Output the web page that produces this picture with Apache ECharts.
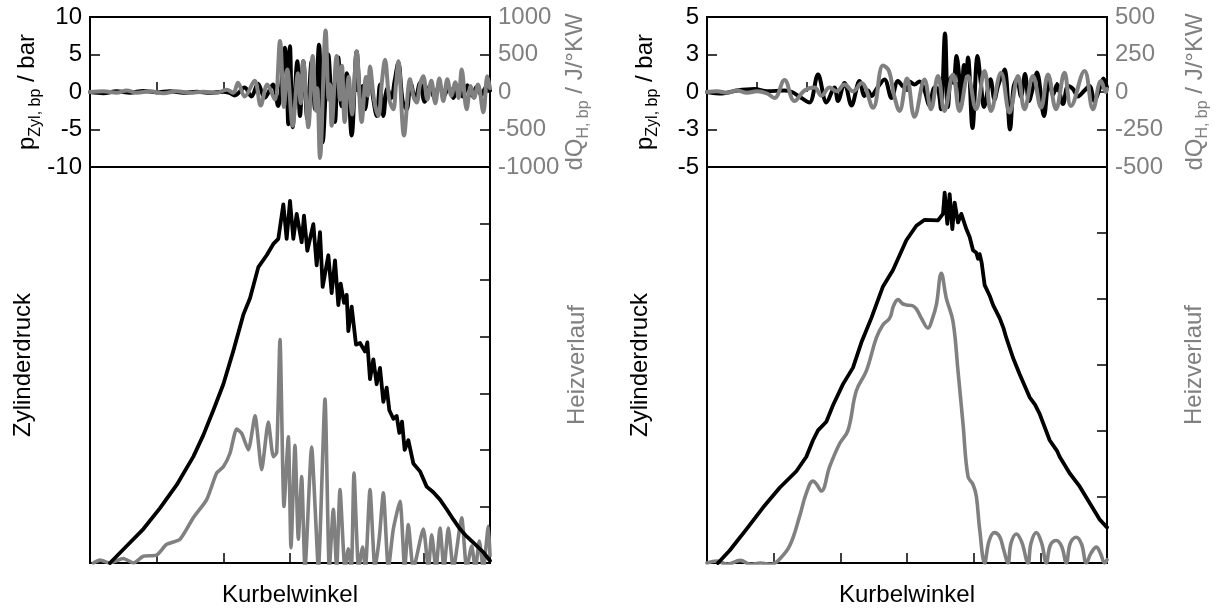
<!DOCTYPE html>
<html>
<head>
<meta charset="utf-8">
<script src="https://cdn.jsdelivr.net/npm/echarts@6/dist/echarts.min.js"></script>
<style>
html, body { margin: 0; padding: 0; background: #fff; }
#chart { width: 1216px; height: 612px; }
</style>
</head>
<body>
<div id="chart"></div>
<script>
// band-pass filtered signals, left case (x = crank angle units, 0..60)
var leftTopP = [[0,0],[2,-0.15],[4,0.1],[6,-0.1],[8,0.15],[10,-0.05],[12,0.1],[14,-0.1],[16,0.05],[18,-0.1],[20,0.05],[21,-0.15],[21.7,-0.45],[23.2,0.6],[24.2,-0.6],[25.2,1.1],[26.2,-0.75],[27.45,1.0],[28.2,-1.85],[29.25,5.9],[29.75,-4.3],[30.0,6.1],[30.4,-4.7],[31.1,4.1],[31.5,-3.2],[32.0,4.1],[32.6,-3.6],[33.25,4.1],[33.75,-2.3],[34.35,6.3],[34.9,-6.7],[35.75,5.0],[36.3,-1.5],[36.5,1.0],[36.75,-4.0],[37.25,4.6],[37.75,-1.9],[38.5,2.5],[39.25,-5.8],[40.0,5.4],[40.6,-1.0],[40.9,0.8],[41.25,-2.3],[42.0,2.1],[42.5,-1.0],[43.0,-3.2],[43.5,1.0],[44.0,-3.2],[44.6,0.5],[45.2,-0.8],[45.7,1.5],[46.25,3.9],[46.9,-1.2],[47.5,-2.3],[48.1,1.2],[48.8,-1.0],[49.5,1.2],[50.2,-1.3],[51.0,0.8],[51.7,-0.9],[52.4,1.0],[53.1,-0.5],[53.8,0.7],[54.5,-0.8],[55.2,0.6],[55.9,-0.6],[56.6,0.9],[57.3,-0.5],[58.0,0.7],[58.7,-0.4],[59.4,0.6],[60,0.2]];
var leftTopQ = [[0,0],[2,10],[4,-10],[5.5,20],[7,-10],[9,10],[11,-15],[13,10],[15,-10],[17,5],[19,-10],[20.5,30],[21.5,-10],[22.2,125],[23.2,-60],[24.7,150],[25.6,-180],[26.6,100],[27.7,-100],[28.5,680],[29.1,-200],[29.6,300],[30.4,-450],[31.2,250],[31.6,-150],[32.0,410],[32.75,-470],[33.4,480],[33.9,-250],[34.1,50],[34.5,-880],[35.35,820],[35.8,-100],[36.0,100],[36.25,-450],[37.0,480],[37.5,-100],[37.8,350],[38.2,-400],[38.8,200],[39.3,-300],[40.0,540],[40.75,-400],[41.4,200],[41.7,-50],[42.0,340],[42.6,-100],[43.25,-320],[43.8,150],[44.25,430],[44.9,-100],[45.5,-230],[45.9,100],[46.25,410],[47.1,-580],[48.0,170],[48.5,-50],[49.0,-140],[49.5,100],[50.0,210],[50.6,-100],[51.2,150],[51.8,-150],[52.4,180],[53.0,-120],[53.6,170],[54.2,-50],[54.8,130],[55.3,-80],[55.75,300],[56.5,-230],[57.1,80],[57.6,-80],[58.2,100],[59.0,-270],[59.6,210],[60,50]];

// cylinder pressure and heat release, left case (arbitrary units, 0..7)
var leftBotP = [[3,0],[5.5,0.3],[8,0.6],[10.5,0.97],[13,1.38],[15.5,1.88],[17,2.26],[18.5,2.7],[20,3.16],[21.5,3.75],[23,4.39],[24,4.68],[25.25,5.23],[26.5,5.44],[27.5,5.64],[28.25,5.73],[29,6.34],[29.5,5.73],[30,6.4],[30.5,5.73],[31,6.17],[31.75,5.67],[32.1,6.14],[32.6,5.52],[33.5,5.99],[34,5.26],[34.5,5.85],[34.9,4.88],[35.75,5.44],[36.25,4.77],[36.75,5.35],[37.25,4.56],[37.6,4.94],[38.1,4.6],[38.5,4.74],[38.75,4.1],[39.25,4.53],[39.9,3.86],[40.5,3.89],[41.25,3.74],[41.6,3.9],[42,3.25],[42.5,3.6],[43,3.16],[43.5,3.45],[44,2.85],[44.5,3.1],[44.9,2.7],[45.5,2.55],[46,2.6],[46.4,2.3],[46.8,2.5],[47.2,2.0],[47.75,2.17],[48.5,1.76],[49.5,1.62],[50.5,1.35],[51.5,1.25],[52.5,1.12],[53.5,0.95],[54.5,0.77],[55.5,0.6],[56.5,0.47],[57.5,0.36],[59,0.19],[60,0.04]];
var leftBotQ = [[0.5,0],[1.5,0.05],[3,0],[5,0.08],[6.5,0],[8,0.12],[10,0.14],[11.5,0.33],[13.5,0.42],[15.5,0.8],[17.5,1.12],[19,1.59],[20,1.7],[21,1.94],[22,2.37],[22.75,2.29],[23.75,2.0],[24.75,2.6],[25.75,1.65],[26.75,2.49],[27.5,1.88],[28,1.95],[28.5,3.95],[29.1,1.0],[29.75,2.23],[30.15,0.27],[30.75,2.08],[31.25,0.42],[31.75,1.53],[32.25,-0.1],[33.25,2.05],[33.8,0.9],[34.25,-0.1],[35.25,2.9],[35.9,-0.1],[36.5,0.95],[37.0,-0.1],[37.5,1.3],[38.25,-0.1],[38.75,0.25],[39.2,-0.1],[39.6,1.59],[40.3,-0.1],[40.9,0.28],[41.3,-0.1],[42,1.3],[42.75,-0.1],[43.4,0.45],[44,1.24],[44.75,-0.1],[45.5,0.6],[46.5,1.09],[47.2,-0.1],[47.75,0.68],[48.5,-0.1],[50,0.6],[50.75,-0.1],[51.25,0.5],[51.9,-0.1],[52.5,0.62],[53.1,-0.1],[53.75,0.62],[54.5,-0.1],[55.75,0.8],[56.5,-0.1],[57.25,0.3],[57.8,-0.1],[58.4,0.39],[59.0,-0.1],[59.75,0.65],[60,0.13]];

// band-pass filtered signals, right case (0..80)
var rightTopP = [[0,0],[3,-0.1],[6,0.1],[9.5,0.2],[12,0.05],[15.5,0.1],[17,0.0],[18.9,-0.4],[20.5,-0.7],[22.2,1.17],[23.9,-0.7],[25.5,0.3],[26.2,-0.6],[27.5,0.6],[28.9,-0.9],[30.5,0.73],[31.5,-0.27],[32.2,0.1],[32.9,-0.27],[33.9,0.2],[35.5,0.84],[36.9,-0.4],[38.2,0.73],[39.5,0.3],[40.5,0.7],[41.5,0.5],[42.5,0.7],[43.5,0.1],[44.5,-0.9],[45.5,0.3],[46.2,0.2],[46.8,-1.15],[47.6,3.9],[48.2,-1.0],[48.8,1.0],[49.3,0.6],[49.9,2.4],[50.5,0.8],[50.9,-0.8],[51.4,1.8],[51.8,1.2],[52.2,2.3],[53.1,-2.4],[54.1,2.4],[54.8,0.5],[55.4,-1.0],[56.7,0.85],[57.5,-0.5],[58.2,0.4],[59.5,1.5],[60.6,-2.5],[61.3,0.3],[62,0.85],[62.8,-0.3],[63.6,1.2],[64.4,-0.6],[65.2,0.3],[66,1.3],[67.4,-1.6],[68.4,0.9],[69.2,-0.2],[70,0.5],[71.2,-0.8],[72.2,0.4],[73.2,0.2],[74.2,-0.3],[75.5,0.1],[76.5,0.4],[77.5,-0.6],[78.5,0.2],[79.3,0.9],[80,0.3]];
var rightTopQ = [[0,0],[2,5],[4,-5],[6,10],[8,-5],[10,5],[12,-10],[13.5,-40],[15.5,80],[17.5,-60],[19.5,10],[21.5,30],[22.9,-25],[24.5,30],[25.9,5],[27.5,50],[29.2,5],[30.9,60],[33.2,-105],[35.2,177],[36.4,140],[37.4,-20],[38.5,-126],[40.0,90],[41.5,-165],[43.5,84],[44.8,-115],[46.2,106],[47.5,-126],[49.2,117],[50.5,-126],[52.2,106],[53.8,-115],[55.5,140],[56.8,-126],[58.8,128],[60.5,-137],[62.2,106],[63.5,-115],[65.2,106],[66.8,-104],[68.2,117],[69.8,-115],[71.5,128],[72.8,-93],[75.5,140],[77.2,-115],[78.8,73],[79.8,0],[80,20]];

// cylinder pressure and heat release, right case (0..6)
var rightBotP = [[1.65,0],[3.4,0.19],[5.9,0.51],[8.4,0.84],[10.9,1.14],[13.4,1.39],[14.9,1.61],[15.9,1.86],[16.65,2.01],[17.9,2.14],[18.9,2.39],[20.4,2.71],[21.9,2.96],[23.15,3.34],[24.65,3.71],[26.4,4.19],[27.9,4.44],[29.9,4.89],[31.4,5.11],[32.65,5.2],[34.65,5.19],[35.4,5.29],[35.65,5.61],[36.05,5.14],[36.4,5.59],[36.8,5.06],[37.15,5.46],[37.65,5.16],[38.15,5.29],[38.9,5.06],[39.4,4.94],[39.9,4.74],[40.4,4.7],[40.65,4.61],[40.9,4.68],[41.2,4.55],[41.65,4.21],[42.4,4.05],[42.7,4.08],[42.9,3.91],[43.9,3.71],[44.5,3.55],[44.7,3.58],[44.9,3.41],[45.9,3.11],[46.9,2.86],[48.4,2.51],[49.2,2.4],[49.5,2.42],[49.9,2.26],[51.4,1.86],[52.5,1.7],[52.7,1.72],[52.9,1.61],[54.4,1.36],[55.9,1.16],[57.4,0.91],[58.9,0.66],[60,0.54]];
var rightBotQ = [[0,0],[1.5,0.03],[3,-0.02],[5,0.04],[6.5,-0.02],[8,0],[9.65,-0.02],[10.9,0.06],[12.4,0.26],[13.9,0.71],[14.9,1.06],[15.9,1.24],[16.4,1.2],[17.15,1.09],[18.4,1.46],[19.9,1.81],[21.15,2.01],[22.4,2.61],[23.9,2.91],[25.4,3.41],[26.4,3.61],[27.4,3.71],[28.0,3.9],[28.65,3.99],[29.3,3.93],[29.9,3.91],[30.8,3.9],[31.4,3.85],[32.2,3.7],[33.15,3.56],[33.8,3.7],[34.4,3.91],[35.15,4.39],[35.9,4.01],[36.9,3.66],[37.65,2.91],[38.4,2.11],[39.15,1.31],[39.9,1.19],[40.4,1.01],[40.9,0.51],[41.65,0],[42.3,0.33],[43.1,0.46],[43.9,0.4],[44.5,0.2],[45.15,0],[45.6,0.3],[46.4,0.44],[47.2,0.32],[48.15,0],[48.6,0.3],[49.4,0.46],[50.2,0.3],[50.9,0],[51.5,0.27],[52.4,0.34],[53.2,0.25],[53.9,0],[54.5,0.3],[55.4,0.39],[56.2,0.28],[56.9,0],[57.6,0.15],[58.4,0.24],[59.0,0.15],[59.65,0],[60,0.05]];

var FONT = 'Liberation Sans, Arial, sans-serif';
var BLACK = '#000';
var GRAY = '#808080';

function roundLabel(v) {
    var a = Math.round(Math.abs(v));
    return (v < 0 && a !== 0 ? '-' : '') + a;
}

function subRich(color) {
    return {
        m: { fontSize: 24, fontFamily: FONT, color: color, lineHeight: 24, verticalAlign: 'top' },
        s: { fontSize: 16, fontFamily: FONT, color: color, lineHeight: 16, padding: [12, 0, 0, 0], verticalAlign: 'top' }
    };
}

var tick = { show: true, inside: true, length: 10, lineStyle: { color: BLACK, width: 1.5 } };
var noLine = { show: false };

function xAx(grid, max, name) {
    return {
        type: 'value', gridIndex: grid, min: 0, max: max, interval: 10,
        axisLine: noLine, axisTick: tick, axisLabel: { show: false }, splitLine: { show: false },
        name: name || '', nameLocation: 'middle', nameGap: 20,
        nameTextStyle: { fontSize: 24, fontFamily: FONT, color: BLACK }
    };
}

function yTop(grid, pos, min, max, step, color, name, gap) {
    return {
        type: 'value', gridIndex: grid, position: pos, min: min, max: max, interval: step,
        axisLine: noLine, axisTick: tick, splitLine: { show: false },
        axisLabel: { fontSize: 24, fontFamily: FONT, color: color, margin: 8, showMinLabel: true, showMaxLabel: true, formatter: roundLabel },
        name: name, nameLocation: 'middle', nameRotate: 90, nameGap: gap,
        nameTextStyle: { color: color, fontFamily: FONT, fontSize: 24, rich: subRich(color) }
    };
}

function yBot(grid, pos, max, color, name, gap, ticks) {
    return {
        type: 'value', gridIndex: grid, position: pos, min: 0, max: max, interval: 1,
        axisLine: noLine, axisTick: ticks ? tick : { show: false }, axisLabel: { show: false }, splitLine: { show: false },
        name: name, nameLocation: 'middle', nameRotate: 90, nameGap: gap,
        nameTextStyle: { color: color, fontFamily: FONT, fontSize: 24 }
    };
}

function line(xi, yi, data, color, width, smooth) {
    return {
        type: 'line', xAxisIndex: xi, yAxisIndex: yi, data: data, showSymbol: false,
        smooth: smooth, clip: true, lineStyle: { color: color, width: width, join: 'round', cap: 'round' }
    };
}

var frame = { show: true, borderColor: BLACK, borderWidth: 2, backgroundColor: 'transparent' };

var option = {
    animation: false,
    backgroundColor: '#fff',
    grid: [
        Object.assign({ left: 90, top: 17, width: 400, height: 150 }, frame),
        Object.assign({ left: 90, top: 167, width: 400, height: 400 }, frame),
        Object.assign({ left: 707, top: 17, width: 400, height: 150 }, frame),
        Object.assign({ left: 707, top: 167, width: 400, height: 400 }, frame)
    ],
    xAxis: [
        xAx(0, 60),
        xAx(1, 60, 'Kurbelwinkel'),
        xAx(2, 80),
        xAx(3, 60, 'Kurbelwinkel')
    ],
    yAxis: [
        yTop(0, 'left', -10, 10, 5, BLACK, '{m|p}{s|Zyl, bp}{m| / bar}', 42),
        yTop(0, 'right', -1000, 1000, 500, GRAY, '{m|dQ}{s|H, bp}{m| / J/°KW}', 73),
        yBot(1, 'left', 7, BLACK, 'Zylinderdruck', 55, false),
        yBot(1, 'right', 7, GRAY, 'Heizverlauf', 75, true),
        yTop(2, 'left', -5, 5, 2.5, BLACK, '{m|p}{s|Zyl, bp}{m| / bar}', 50),
        yTop(2, 'right', -500, 500, 250, GRAY, '{m|dQ}{s|H, bp}{m| / J/°KW}', 76),
        yBot(3, 'left', 6, BLACK, 'Zylinderdruck', 55, false),
        yBot(3, 'right', 6, GRAY, 'Heizverlauf', 75, true)
    ],
    series: [
        line(0, 0, leftTopP, BLACK, 4, 0.35),
        line(0, 1, leftTopQ, GRAY, 4, 0.35),
        line(1, 2, leftBotQ, GRAY, 3.6, 0.2),
        line(1, 2, leftBotP, BLACK, 3.8, false),
        line(2, 4, rightTopP, BLACK, 4, 0.35),
        line(2, 5, rightTopQ, GRAY, 4, 0.4),
        line(3, 6, rightBotQ, GRAY, 3.6, 0.4),
        line(3, 6, rightBotP, BLACK, 3.8, false)
    ]
};

var chart = echarts.init(document.getElementById('chart'));
chart.setOption(option);
</script>
</body>
</html>
